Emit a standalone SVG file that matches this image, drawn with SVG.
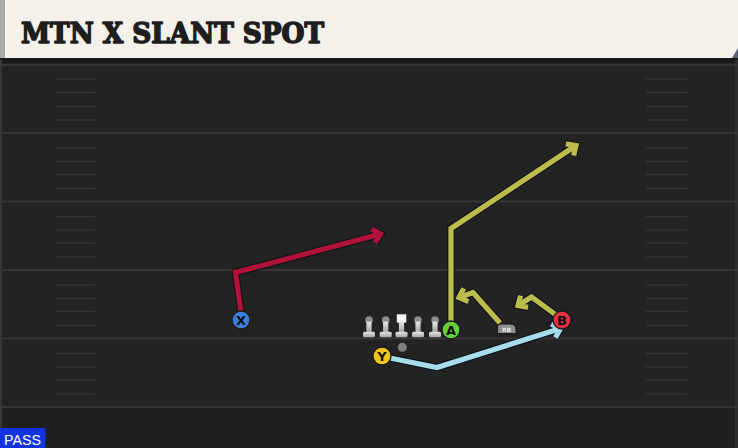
<svg xmlns="http://www.w3.org/2000/svg" width="738" height="448" viewBox="0 0 738 448">
<defs>
<style>
.yard{stroke:#363636;stroke-width:2}
.hash{stroke:#353535;stroke-width:1.6}
.outline{fill:none;stroke:#0e1216;stroke-width:7.4;stroke-linejoin:miter;stroke-linecap:butt}
.route{fill:none;stroke-width:5.2;stroke-linejoin:miter;stroke-linecap:butt}
.red{stroke:#b0123a}
.olive{stroke:#bcbc4c}
.blue{stroke:#a6dcec}
.pl{stroke:#1a1a1a;stroke-width:1.3}
.plt{font-family:"DejaVu Sans",sans-serif;font-weight:bold;font-size:13px;fill:#111;text-anchor:middle}
</style>
<marker id="mo" markerUnits="userSpaceOnUse" viewBox="-12 -12 24 24" markerWidth="24" markerHeight="24" refX="0" refY="0" orient="auto" overflow="visible"><path d="M-7.5,-7 L0,0 L-7.5,7" fill="none" stroke="#0e1216" stroke-width="7.4"/></marker>
<marker id="mr" markerUnits="userSpaceOnUse" viewBox="-12 -12 24 24" markerWidth="24" markerHeight="24" refX="0" refY="0" orient="auto" overflow="visible"><path d="M-7.5,-7 L0,0 L-7.5,7" fill="none" stroke="#b0123a" stroke-width="5.2"/></marker>
<marker id="mg" markerUnits="userSpaceOnUse" viewBox="-12 -12 24 24" markerWidth="24" markerHeight="24" refX="0" refY="0" orient="auto" overflow="visible"><path d="M-7.5,-7 L0,0 L-7.5,7" fill="none" stroke="#bcbc4c" stroke-width="5.2"/></marker>
<marker id="mb" markerUnits="userSpaceOnUse" viewBox="-12 -12 24 24" markerWidth="24" markerHeight="24" refX="0" refY="0" orient="auto" overflow="visible"><path d="M-7.5,-7 L0,0 L-7.5,7" fill="none" stroke="#a6dcec" stroke-width="5.2"/></marker>
<linearGradient id="lg" x1="0" y1="0" x2="0" y2="1"><stop offset="0" stop-color="#e6e6e6"/><stop offset="1" stop-color="#a4a4a4"/></linearGradient>
<g id="lineman">
<circle cx="0" cy="-8.5" r="3.8" fill="#8c8c8c"/>
<rect x="-2.6" y="-7" width="5.2" height="11" fill="url(#lg)"/>
<rect x="-6" y="3.3" width="12" height="5.5" rx="1.5" fill="url(#lg)"/>
</g>
</defs>

<!-- field -->
<rect x="0" y="0" width="738" height="448" fill="#232323"/>
<rect x="0" y="407" width="738" height="41" fill="#1f1f1f"/>
<rect x="0" y="58" width="738" height="5" fill="#1a1a1a"/>
<rect x="0" y="60" width="2" height="388" fill="#383838"/>
<rect x="735" y="60" width="3" height="388" fill="#2e2e2e"/>

<g id="yardlines">
<line class="yard" x1="0" y1="65" x2="738" y2="65"/>
<line class="yard" x1="0" y1="133" x2="738" y2="133"/>
<line class="yard" x1="0" y1="201.5" x2="738" y2="201.5"/>
<line class="yard" x1="0" y1="270" x2="738" y2="270"/>
<line class="yard" x1="0" y1="338.5" x2="738" y2="338.5"/>
<line class="yard" x1="0" y1="407" x2="738" y2="407"/>
</g>
<g id="hashes">
<path class="hash" d="M56,79H95M56,92.5H95M56,106.5H95M56,120H95M56,148H95M56,161.5H95M56,174.5H95M56,188.5H95M56,216.5H95M56,230H95M56,243H95M56,257H95M56,285H95M56,298.5H95M56,311.5H95M56,325.5H95M56,353.5H95M56,367H95M56,380H95M56,394H95"/>
<path class="hash" d="M646,79H687M646,92.5H687M646,106.5H687M646,120H687M646,148H687M646,161.5H687M646,174.5H687M646,188.5H687M646,216.5H687M646,230H687M646,243H687M646,257H687M646,285H687M646,298.5H687M646,311.5H687M646,325.5H687M646,353.5H687M646,367H687M646,380H687M646,394H687"/>
</g>

<!-- header -->
<g id="header">
<rect x="0" y="0" width="738" height="58" fill="#f4f1ea"/>
<rect x="0" y="0" width="5" height="58" fill="#a9a9a6"/>
<path d="M738,48 L738,58 L732,58 Z" fill="#5a6272"/>
<text x="21" y="42.5" font-family="'DejaVu Serif',serif" font-weight="900" font-size="28" fill="#1e1e1e" stroke="#1e1e1e" stroke-width="1.6" stroke-linejoin="round" textLength="303" lengthAdjust="spacingAndGlyphs">MTN X SLANT SPOT</text>
</g>

<!-- connectors -->
<g id="connectors">
<path class="outline" d="M241,312 L235.5,272.5 L380.5,234" marker-end="url(#mo)"/>
<path class="route red" d="M241,312 L235.5,272.5 L380.5,234" marker-end="url(#mr)"/>
<path class="outline" d="M451,322 L451,228.5 L576,145.5" marker-end="url(#mo)"/>
<path class="route olive" d="M451,322 L451,228.5 L576,145.5" marker-end="url(#mg)"/>
<path class="outline" d="M500,323 L473,292.5 L459,297.5" marker-end="url(#mo)"/>
<path class="route olive" d="M500,323 L473,292.5 L459,297.5" marker-end="url(#mg)"/>
<path class="outline" d="M556,315 L531.5,297 L518,305.5" marker-end="url(#mo)"/>
<path class="route olive" d="M556,315 L531.5,297 L518,305.5" marker-end="url(#mg)"/>
<path class="outline" d="M390,358 L437,367.5 L560.5,328.5" marker-end="url(#mo)"/>
<path class="route blue" d="M390,358 L437,367.5 L560.5,328.5" marker-end="url(#mb)"/>
</g>

<!-- line -->
<g id="linemen">
<use href="#lineman" x="369" y="328.5"/>
<use href="#lineman" x="385.7" y="328.5"/>
<g id="center">
<rect x="396.8" y="314.3" width="9.5" height="8.3" fill="#f4f4f4"/>
<rect x="398.9" y="321.5" width="5.2" height="10.5" fill="url(#lg)"/>
<rect x="395.5" y="331.8" width="12" height="5.5" rx="1.5" fill="url(#lg)"/>
</g>
<use href="#lineman" x="418" y="328.5"/>
<use href="#lineman" x="435" y="328.5"/>
</g>
<g id="ball"><circle cx="402.3" cy="347.3" r="4.5" fill="#7e7e7e"/></g>

<g id="RB">
<path d="M497.5,333.5 L497.5,327 Q497.5,324 500.5,324 L510,324 Q516,324 516,330 L516,333.5 Z" fill="#8e8e8e" stroke="#1a1a1a" stroke-width="1"/>
<text x="506.5" y="331.8" font-family="'DejaVu Sans',sans-serif" font-weight="bold" font-size="6" fill="#e8e8e8" text-anchor="middle">RB</text>
</g>

<g id="X"><circle class="pl" cx="241" cy="320" r="9" fill="#3d7ddb"/><text class="plt" x="241" y="324.7">X</text></g>
<g id="Y"><circle class="pl" cx="382" cy="356" r="9" fill="#f1c31e"/><text class="plt" x="382" y="360.7">Y</text></g>
<g id="A"><circle class="pl" cx="451" cy="330" r="9" fill="#62d13a"/><text class="plt" x="451" y="334.7">A</text></g>
<g id="B"><circle class="pl" cx="562" cy="320" r="9" fill="#e7303e"/><text class="plt" x="562" y="324.7">B</text></g>

<g id="pass">
<rect x="0" y="428" width="45.5" height="20" fill="#1133e0"/>
<text x="4" y="444.5" font-family="'Liberation Sans',sans-serif" font-size="15" fill="#ffffff" textLength="37" lengthAdjust="spacingAndGlyphs">PASS</text>
</g>
</svg>
